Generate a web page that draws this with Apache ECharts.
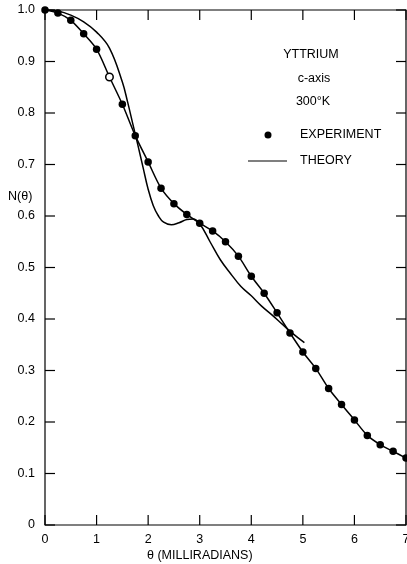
<!DOCTYPE html>
<html>
<head>
<meta charset="UTF-8">
<title>Yttrium c-axis</title>
<script src="https://cdn.jsdelivr.net/npm/echarts@6/dist/echarts.min.js"></script>
<style>
  html, body { margin: 0; padding: 0; background: #fff; }
  #main { width: 407px; height: 564px; }
</style>
</head>
<body>
<div id="main"></div>
<script type="text/javascript">
    // data
    var expX = [0, 0.25, 0.5, 0.75, 1, 1.25, 1.5, 1.75, 2, 2.25, 2.5, 2.75, 3, 3.25, 3.5,
                3.75, 4, 4.25, 4.5, 4.75, 5, 5.25, 5.5, 5.75, 6, 6.25, 6.5, 6.75, 7];
    var expY = [1.000, 0.994, 0.980, 0.954, 0.924, 0.870, 0.817, 0.756, 0.705, 0.654, 0.624,
                0.603, 0.586, 0.571, 0.550, 0.522, 0.483, 0.450, 0.412, 0.373, 0.336, 0.304,
                0.265, 0.234, 0.204, 0.174, 0.156, 0.143, 0.130];
    var openPoints = [5];   // hollow marker

    var theoryX = [0, 0.25, 0.5, 0.75, 1, 1.25, 1.5, 1.6, 1.7, 1.8, 1.9, 2, 2.1, 2.2, 2.3,
                   2.45, 2.6, 2.75, 2.87, 3, 3.2, 3.4, 3.6, 3.8, 4, 4.2, 4.4, 4.6, 4.8, 5.03];
    var theoryY = [1.000, 0.998, 0.990, 0.977, 0.957, 0.926, 0.860, 0.822, 0.780, 0.738, 0.695,
                   0.652, 0.620, 0.600, 0.588, 0.583, 0.587, 0.593, 0.594, 0.585, 0.550, 0.515,
                   0.488, 0.463, 0.445, 0.425, 0.408, 0.390, 0.372, 0.354];

    var xTicks = [0, 1, 2, 3, 4, 5, 6, 7];
    var yTicks = [0, 0.1, 0.2, 0.3, 0.4, 0.5, 0.6, 0.7, 0.8, 0.9, 1.0];

    var legendLines = ['YTTRIUM', 'c-axis', '300°K'];

    var font = 'Liberation Sans';
    var myChart = echarts.init(document.getElementById('main'));

    var expData = expX.map(function (x, i) {
        if (openPoints.indexOf(i) >= 0) {
            return { value: [x, expY[i]], itemStyle: { color: '#fff', borderColor: '#000', borderWidth: 1.5 } };
        }
        return [x, expY[i]];
    });
    var theoryData = theoryX.map(function (x, i) { return [x, theoryY[i]]; });

    var TICK = 10;
    var frameStyle = { stroke: '#000', lineWidth: 1.2, fill: null };

    // box round the plot, from the grid rect
    function renderFrame(params, api) {
        var cs = params.coordSys;
        return {
            type: 'rect',
            shape: { x: cs.x, y: cs.y, width: cs.width, height: cs.height },
            style: frameStyle
        };
    }
    // inward ticks on bottom and top
    function renderXTick(params, api) {
        var cs = params.coordSys;
        var px = api.coord([api.value(0), 0])[0];
        var yb = cs.y + cs.height;
        return {
            type: 'group',
            children: [
                { type: 'line', shape: { x1: px, y1: yb, x2: px, y2: yb - TICK }, style: frameStyle },
                { type: 'line', shape: { x1: px, y1: cs.y, x2: px, y2: cs.y + TICK }, style: frameStyle }
            ]
        };
    }
    // inward ticks on left and right
    function renderYTick(params, api) {
        var cs = params.coordSys;
        var py = api.coord([0, api.value(1)])[1];
        var xr = cs.x + cs.width;
        return {
            type: 'group',
            children: [
                { type: 'line', shape: { x1: cs.x, y1: py, x2: cs.x + TICK, y2: py }, style: frameStyle },
                { type: 'line', shape: { x1: xr, y1: py, x2: xr - TICK, y2: py }, style: frameStyle }
            ]
        };
    }

    var option = {
        animation: false,
        backgroundColor: '#fff',
        grid: { left: 45, right: 1, top: 10, bottom: 39, outerBoundsMode: 'none' },
        xAxis: {
            type: 'value', min: 0, max: 7, interval: 1,
            axisLine: { show: false }, axisTick: { show: false }, splitLine: { show: false },
            axisLabel: { color: '#000', fontSize: 12.5, margin: 8 }
        },
        yAxis: {
            type: 'value', min: 0, max: 1, interval: 0.1,
            axisLine: { show: false }, axisTick: { show: false }, splitLine: { show: false },
            axisLabel: {
                color: '#000', fontSize: 12.5, margin: 10,
                formatter: function (v) { return v === 0 ? '0' : v.toFixed(1); }
            }
        },
        graphic: [
            { type: 'text', left: 8, top: 190, style: { text: 'N(θ)', fill: '#000', font: '12.5px "' + font + '"' } },
            { type: 'text', left: 147, top: 549, style: { text: 'θ (MILLIRADIANS)', fill: '#000', font: '12.5px "' + font + '"' } },
            { type: 'text', x: 311, y: 55, style: { text: legendLines[0], fill: '#000', font: '12.5px "' + font + '"', align: 'center', verticalAlign: 'middle' } },
            { type: 'text', x: 314, y: 79, style: { text: legendLines[1], fill: '#000', font: '12.5px "' + font + '"', align: 'center', verticalAlign: 'middle' } },
            { type: 'text', x: 313, y: 102, style: { text: legendLines[2], fill: '#000', font: '12.5px "' + font + '"', align: 'center', verticalAlign: 'middle' } },
            { type: 'circle', shape: { cx: 268, cy: 135, r: 3.5 }, style: { fill: '#000' } },
            { type: 'text', x: 300, y: 135, style: { text: 'EXPERIMENT', fill: '#000', font: '12.5px "' + font + '"', verticalAlign: 'middle' } },
            { type: 'line', shape: { x1: 248, y1: 161, x2: 287, y2: 161 }, style: { stroke: '#000', lineWidth: 1.2 } },
            { type: 'text', x: 300, y: 161, style: { text: 'THEORY', fill: '#000', font: '12.5px "' + font + '"', verticalAlign: 'middle' } }
        ],
        series: [
            {
                name: 'frame', type: 'custom', silent: true, clip: false,
                data: [[0, 0]], encode: { x: 0, y: 1 }, renderItem: renderFrame
            },
            {
                name: 'xticks', type: 'custom', silent: true, clip: false,
                data: xTicks.map(function (v) { return [v, 0]; }), encode: { x: 0, y: 1 }, renderItem: renderXTick
            },
            {
                name: 'yticks', type: 'custom', silent: true, clip: false,
                data: yTicks.map(function (v) { return [0, v]; }), encode: { x: 0, y: 1 }, renderItem: renderYTick
            },
            {
                name: 'EXPERIMENT',
                type: 'line',
                data: expData,
                smooth: 0.3,
                clip: false,
                symbol: 'circle',
                symbolSize: 7.5,
                itemStyle: { color: '#000' },
                lineStyle: { color: '#000', width: 1.5 }
            },
            {
                name: 'THEORY',
                type: 'line',
                data: theoryData,
                smooth: 0.4,
                showSymbol: false,
                lineStyle: { color: '#000', width: 1.5 }
            }
        ]
    };
    myChart.setOption(option);
</script>
</body>
</html>
